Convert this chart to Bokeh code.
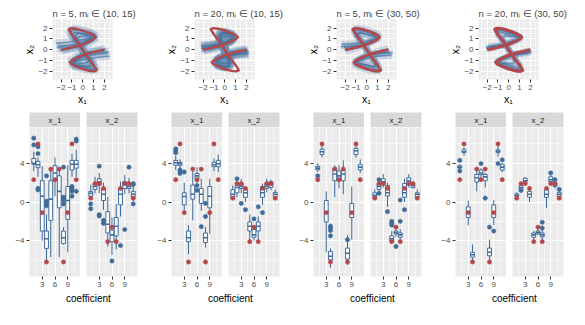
from bokeh.plotting import figure
from bokeh.layouts import row, column
from bokeh.models import Range1d, FixedTicker
from bokeh.core.properties import value
from bokeh.embed import file_html
from bokeh.resources import INLINE

FONT = "Liberation Sans"
BG = "#EBEBEB"
STRIP = "#D9D9D9"
BLUE = "#3F6B98"
RED = "#B5474B"
CURVE = "#41709E"

titles = ["n = 5, m\u1d62 \u2208 (10, 15)", "n = 20, m\u1d62 \u2208 (10, 15)",
          "n = 5, m\u1d62 \u2208 (30, 50)", "n = 20, m\u1d62 \u2208 (30, 50)"]
facets = ["x_1", "x_2"]
coef = [1, 2, 3, 4, 5, 6, 7, 8, 9, 10, 11]

# true coefficients (red points)
true_x1 = [2.3, 6.0, -1.1, -6.2, 3.4, 2.3, 3.4, -6.2, -1.1, 6.0, 2.3]
true_x2 = [0.4, 1.9, 1.9, 1.4, -4.1, -2.6, -4.1, 1.4, 1.9, 1.9, 0.4]

# true curve (red)
red_x = [-2.0, -1.5, -1.0, -0.5, 0.0, 0.5, 0.95, 1.2, 1.05, 0.6, 0.0, -0.6, -1.05, -1.3, -1.0, -0.5, 0.0,
         0.5, 1.0, 1.3, 1.05, 0.6, 0.0, -0.6, -1.05, -1.2, -0.95, -0.5, 0.0, 0.5, 1.0, 1.5, 2.0]
red_y = [0.0, 0.1, 0.22, 0.35, 0.5, 0.72, 0.95, 1.15, 1.32, 1.55, 1.78, 1.95, 2.0, 1.9, 1.4, 0.75, 0.0,
         -0.75, -1.4, -1.9, -2.0, -1.95, -1.78, -1.55, -1.32, -1.15, -0.95, -0.72, -0.5, -0.35, -0.22, -0.1, 0.0]

# estimated curves (blue), panel 1
c1a_x = [-2.3, -1.2, -0.3, 0.5, 1.1, 0.8, 0.0, -0.8, -1.0, -0.5, 0.0, 0.5, 1.0, 0.8, 0.0, -0.8, -1.1, -0.5, 0.3, 1.2, 2.3]
c1a_y = [0.3, 0.4, 0.6, 0.9, 1.3, 1.5, 1.5, 1.6, 1.3, 0.6, 0.0, -0.6, -1.3, -1.6, -1.5, -1.5, -1.3, -0.9, -0.6, -0.4, -0.3]
c1b_x = [-2.1, -1.2, -0.4, 0.3, 0.9, 0.6, -0.2, -1.0, -1.1, -0.6, 0.0, 0.6, 1.1, 1.0, 0.2, -0.6, -0.9, -0.3, 0.4, 1.2, 2.1]
c1b_y = [-0.1, 0.1, 0.35, 0.7, 1.1, 1.6, 1.8, 1.9, 1.6, 0.9, 0.1, -0.9, -1.6, -1.9, -1.8, -1.6, -1.1, -0.7, -0.35, -0.1, 0.1]
c1c_x = [-2.5, -1.4, -0.5, 0.3, 0.8, 0.4, -0.3, -0.6, -0.3, 0.0, 0.3, 0.6, 0.3, -0.4, -0.8, -0.3, 0.5, 1.4, 2.5]
c1c_y = [0.6, 0.7, 0.85, 1.0, 1.1, 1.3, 1.2, 1.0, 0.5, 0.0, -0.5, -1.0, -1.2, -1.3, -1.1, -1.0, -0.85, -0.7, -0.6]
c1d_x = [-1.9, -1.0, -0.2, 0.6, 1.3, 1.0, 0.2, -0.5, -1.3, -0.9, -0.2, 0.4, 1.1, 1.4, 0.6, -0.2, -1.0, -0.6, 0.2, 1.0, 1.9]
c1d_y = [0.0, 0.25, 0.5, 0.9, 1.2, 1.5, 1.7, 1.85, 1.8, 1.1, 0.2, -0.7, -1.6, -1.8, -1.75, -1.6, -1.3, -0.9, -0.5, -0.25, 0.0]
c1e_x = [-2.4, -1.5, -0.6, 0.2, 1.0, 1.2, 0.5, -0.4, -0.7, -0.4, 0.1, 0.5, 0.8, 0.3, -0.5, -1.2, -1.0, -0.2, 0.6, 1.5, 2.4]
c1e_y = [0.2, 0.15, 0.2, 0.4, 0.9, 1.1, 1.35, 1.55, 1.3, 0.7, -0.1, -0.8, -1.4, -1.6, -1.4, -1.1, -0.9, -0.4, -0.2, -0.15, -0.2]
# panel 2
c2a_x = [-2.2, -1.3, -0.5, 0.2, 0.7, 0.6, 0.1, -0.3, -0.4, -0.2, 0.0, 0.2, 0.4, 0.3, -0.1, -0.6, -0.7, -0.2, 0.5, 1.3, 2.2]
c2a_y = [0.1, 0.25, 0.45, 0.7, 1.0, 1.3, 1.5, 1.45, 1.1, 0.5, 0.0, -0.5, -1.1, -1.45, -1.5, -1.3, -1.0, -0.7, -0.45, -0.25, -0.1]
c2b_x = [-2.1, -1.2, -0.4, 0.3, 0.8, 0.6, 0.0, -0.4, -0.5, -0.25, 0.0, 0.25, 0.5, 0.4, 0.0, -0.6, -0.8, -0.3, 0.4, 1.2, 2.1]
c2b_y = [0.25, 0.35, 0.55, 0.8, 1.1, 1.4, 1.6, 1.55, 1.2, 0.55, 0.05, -0.55, -1.2, -1.55, -1.6, -1.4, -1.1, -0.8, -0.55, -0.35, -0.25]
c2c_x = [-2.0, -1.1, -0.4, 0.2, 0.6, 0.5, 0.0, -0.3, -0.3, -0.1, 0.0, 0.1, 0.3, 0.3, 0.0, -0.5, -0.6, -0.2, 0.4, 1.1, 2.0]
c2c_y = [0.0, 0.15, 0.35, 0.6, 0.85, 1.15, 1.3, 1.25, 0.9, 0.4, 0.0, -0.4, -0.9, -1.25, -1.3, -1.15, -0.85, -0.6, -0.35, -0.15, 0.0]
c2d_x = [-2.2, -1.4, -0.6, 0.1, 0.9, 0.8, 0.2, -0.3, -0.55, -0.3, 0.0, 0.3, 0.55, 0.3, -0.2, -0.8, -0.9, -0.1, 0.6, 1.4, 2.2]
c2d_y = [0.35, 0.4, 0.5, 0.75, 1.0, 1.35, 1.55, 1.6, 1.3, 0.6, 0.0, -0.6, -1.3, -1.6, -1.55, -1.35, -1.0, -0.75, -0.5, -0.4, -0.35]
# panel 3
c3a_x = [-2.1, -1.2, -0.5, 0.2, 0.8, 1.1, 0.9, 0.3, -0.4, -1.0, -1.2, -0.8, -0.4, 0.0, 0.4, 0.8, 1.2, 1.0, 0.4, -0.3, -0.9, -1.1, -0.8, -0.2, 0.5, 1.2, 2.1]
c3a_y = [0.2, 0.35, 0.45, 0.7, 0.95, 1.15, 1.35, 1.55, 1.75, 1.85, 1.7, 1.1, 0.6, 0.0, -0.6, -1.1, -1.7, -1.85, -1.75, -1.55, -1.35, -1.15, -0.95, -0.7, -0.45, -0.35, -0.2]
c3b_x = [-2.3, -1.3, -0.5, 0.3, 0.9, 0.7, 0.1, -0.5, -0.9, -0.6, -0.2, 0.0, 0.2, 0.6, 0.9, 0.5, -0.1, -0.7, -0.9, -0.3, 0.5, 1.3, 2.3]
c3b_y = [0.5, 0.55, 0.65, 0.85, 1.05, 1.3, 1.4, 1.55, 1.5, 1.0, 0.4, 0.0, -0.4, -1.0, -1.5, -1.55, -1.4, -1.3, -1.05, -0.85, -0.65, -0.55, -0.5]
c3c_x = [-2.0, -1.2, -0.4, 0.4, 1.2, 1.0, 0.4, -0.3, -1.2, -1.0, -0.4, 0.0, 0.4, 1.0, 1.2, 0.3, -0.4, -1.0, -1.2, -0.4, 0.4, 1.2, 2.0]
c3c_y = [-0.1, 0.1, 0.35, 0.75, 1.2, 1.45, 1.7, 1.9, 2.0, 1.5, 0.6, 0.0, -0.6, -1.5, -2.0, -1.9, -1.7, -1.45, -1.2, -0.75, -0.35, -0.1, 0.1]
c3d_x = [-2.4, -1.5, -0.7, 0.0, 0.6, 1.0, 0.6, 0.0, -0.6, -0.9, -0.5, 0.0, 0.5, 0.9, 0.6, 0.0, -0.6, -1.0, -0.6, 0.0, 0.7, 1.5, 2.4]
c3d_y = [0.3, 0.3, 0.4, 0.55, 0.85, 1.05, 1.25, 1.4, 1.6, 1.35, 0.7, 0.0, -0.7, -1.35, -1.6, -1.4, -1.25, -1.05, -0.85, -0.55, -0.4, -0.3, -0.3]
# panel 4
c4a_x = [-2.0, -1.0, -0.3, 0.4, 1.0, 1.15, 0.8, 0.1, -0.6, -1.2, -1.0, -0.5, 0.0, 0.5, 1.0, 1.2, 0.6, -0.1, -0.8, -1.15, -1.0, -0.4, 0.3, 1.0, 2.0]
c4a_y = [0.05, 0.25, 0.4, 0.7, 1.0, 1.15, 1.35, 1.6, 1.85, 1.9, 1.4, 0.7, 0.0, -0.7, -1.4, -1.9, -1.85, -1.6, -1.35, -1.15, -1.0, -0.7, -0.4, -0.25, -0.05]
c4b_x = [-2.1, -1.2, -0.4, 0.3, 0.9, 0.8, 0.2, -0.5, -1.0, -0.9, -0.4, 0.0, 0.4, 0.9, 1.0, 0.5, -0.2, -0.8, -0.9, -0.3, 0.4, 1.2, 2.1]
c4b_y = [0.2, 0.35, 0.5, 0.75, 1.0, 1.2, 1.35, 1.55, 1.7, 1.3, 0.6, 0.0, -0.6, -1.3, -1.7, -1.55, -1.35, -1.2, -1.0, -0.75, -0.5, -0.35, -0.2]
c4c_x = [-1.9, -1.1, -0.3, 0.5, 1.0, 0.7, 0.0, -0.4, -0.5, -0.3, 0.0, 0.3, 0.5, 0.4, 0.0, -0.7, -1.0, -0.5, 0.3, 1.1, 1.9]
c4c_y = [0.3, 0.4, 0.55, 0.85, 1.05, 1.2, 1.25, 1.3, 1.0, 0.5, 0.0, -0.5, -1.0, -1.3, -1.25, -1.2, -1.05, -0.85, -0.55, -0.4, -0.3]
c4d_x = [-2.05, -1.1, -0.35, 0.35, 1.05, 1.1, 0.6, 0.0, -0.7, -1.1, -0.9, -0.45, 0.0, 0.45, 0.9, 1.1, 0.7, 0.0, -0.6, -1.1, -1.05, -0.35, 0.35, 1.1, 2.05]
c4d_y = [0.1, 0.3, 0.45, 0.75, 1.05, 1.2, 1.4, 1.6, 1.8, 1.75, 1.3, 0.65, 0.0, -0.65, -1.3, -1.75, -1.8, -1.6, -1.4, -1.2, -1.05, -0.75, -0.45, -0.3, -0.1]

curves = [
    [(c1a_x, c1a_y), (c1b_x, c1b_y), (c1c_x, c1c_y), (c1d_x, c1d_y), (c1e_x, c1e_y)],
    [(c2a_x, c2a_y), (c2b_x, c2b_y), (c2c_x, c2c_y), (c2d_x, c2d_y)],
    [(c3a_x, c3a_y), (c3b_x, c3b_y), (c3c_x, c3c_y), (c3d_x, c3d_y)],
    [(c4a_x, c4a_y), (c4b_x, c4b_y), (c4c_x, c4c_y), (c4d_x, c4d_y)],
]
red_width = [2.2, 2.4, 2.6, 3.0]
band_alpha = [0.18, 0.3, 0.2, 0.2]
band_width = [8, 9, 7, 6]

# box statistics (lower whisker, q1, median, q3, upper whisker) per coefficient 1..11
p1_x1_box = [(3.2, 3.9, 4.0, 4.5, 5.2), (2.6, 3.55, 3.85, 4.2, 4.6), (-4.0, -3.0, 0.6, 2.2, 3.7),
             (-6.0, -4.8, -3.8, -3.0, -1.3), (-5.7, -1.9, 0.3, 2.2, 3.4), (0.6, 2.2, 3.0, 3.75, 4.6),
             (-5.7, -0.6, 1.1, 2.7, 3.4), (-4.4, -4.3, -3.7, -3.0, -2.6), (-5.2, -1.8, 0.15, 1.6, 3.8),
             (2.6, 3.3, 3.9, 4.3, 5.0), (2.6, 3.5, 3.9, 4.3, 5.4)]
p1_x1_out = [(1, 6.6), (1, 5.9), (2, 5.7), (2, 5.0), (2, 1.4), (2, 1.25), (4, 0.1), (4, -0.1), (4, -0.4),
             (4, 2.7), (8, 3.6), (8, 0.5), (8, 0.4), (8, 0.2), (8, -0.2), (10, 1.6), (10, 1.4), (10, 1.1),
             (10, 0.6), (11, 6.5), (11, 6.3), (11, 1.1)]
p1_x2_box = [(0.2, 0.6, 0.9, 1.1, 1.8), (0.9, 1.3, 1.6, 1.9, 2.6), (0.9, 1.75, 2.1, 2.4, 3.0),
             (-0.8, 0.15, 0.8, 1.4, 2.0), (-4.6, -3.2, -2.3, -1.0, 0.5), (-5.5, -4.1, -3.4, -2.9, -1.6),
             (-4.9, -3.5, -2.5, -1.6, -0.2), (-1.5, -0.3, 0.8, 1.4, 2.1), (0.8, 1.4, 1.8, 2.1, 2.8),
             (0.9, 1.4, 1.6, 1.9, 2.5), (0.1, 0.5, 0.8, 1.1, 1.6)]
p1_x2_out = [(1, -0.2), (1, -0.7), (3, 3.7), (3, -1.3), (3, -1.45), (4, -1.9), (4, -2.2), (6, -6.1),
             (8, -4.5), (9, -2.85), (10, 3.6), (11, 1.8), (11, 1.9), (11, -0.2)]

p2_x1_box = [(3.3, 3.8, 4.05, 4.3, 4.8), (3.5, 3.8, 3.95, 4.1, 4.4), (-1.3, -0.3, 0.57, 0.95, 2.0),
             (-5.4, -4.1, -3.7, -3.0, -2.4), (-1.9, 0.3, 0.8, 1.75, 3.4), (1.9, 2.4, 2.7, 2.95, 3.6),
             (-0.9, -0.15, 0.8, 1.4, 2.4), (-4.7, -4.2, -3.7, -3.2, -2.6), (-3.3, -0.6, 0.6, 1.6, 2.4),
             (3.2, 3.65, 3.85, 4.1, 4.5), (3.1, 3.65, 3.95, 4.3, 4.9)]
p2_x1_out = [(1, 5.5), (1, 5.3), (1, 5.1), (2, 3.3), (2, 3.2), (2, 2.95), (3, 3.1), (6, 1.7), (6, 1.2),
             (7, -2.55), (8, -0.15), (8, -1.5)]
p2_x2_box = [(0.3, 0.48, 0.8, 1.27, 1.7), (0.5, 0.95, 1.5, 1.7, 2.2), (0.9, 1.4, 1.6, 1.9, 2.4),
             (0.0, 0.48, 0.95, 1.27, 1.6), (-4.0, -3.0, -2.5, -2.06, -1.3), (-4.0, -3.65, -3.4, -2.85, -2.5),
             (-3.9, -3.0, -2.5, -2.06, -1.5), (-0.3, 0.48, 0.95, 1.6, 1.9), (1.0, 1.4, 1.6, 1.9, 2.4),
             (1.2, 1.5, 1.8, 2.1, 2.3), (0.5, 0.55, 0.8, 1.0, 1.3)]
p2_x2_out = [(2, 2.4), (3, -0.15), (4, -0.8), (6, -1.75), (7, -0.5), (8, -1.1)]

p3_x1_box = [(3.1, 3.33, 3.5, 3.7, 4.0), (4.6, 4.9, 5.2, 5.46, 5.8), (-5.2, -2.06, -1.0, 0.15, 1.1),
             (-6.8, -6.0, -5.6, -5.1, -4.8), (0.5, 2.2, 2.9, 3.5, 3.8), (1.4, 2.2, 2.7, 3.2, 3.8),
             (0.8, 2.2, 2.9, 3.3, 4.3), (-6.5, -5.9, -5.3, -4.76, -3.4), (-3.9, -1.6, -1.1, -0.15, 1.6),
             (4.6, 4.9, 5.3, 5.55, 5.9), (3.0, 3.3, 3.6, 3.9, 4.4)]
p3_x1_out = [(1, 2.7), (4, -2.5), (4, -2.7), (4, -2.95), (4, -3.5), (8, -3.9)]
p3_x2_box = [(0.3, 0.48, 0.7, 0.95, 1.3), (0.8, 1.3, 1.6, 1.9, 2.3), (1.5, 1.8, 2.1, 2.4, 2.9),
             (-0.5, 0.63, 0.95, 1.7, 2.0), (-4.3, -4.1, -3.8, -3.5, -3.0), (-3.6, -3.3, -3.15, -3.0, -2.7),
             (-4.0, -3.65, -3.4, -3.2, -2.8), (0.0, 0.48, 0.95, 1.9, 2.4), (1.5, 1.9, 2.2, 2.5, 2.9),
             (1.4, 1.5, 1.7, 1.8, 2.1), (0.4, 0.55, 0.8, 0.95, 1.3)]
p3_x2_out = [(2, 2.3), (2, 0.9), (4, -1.0), (5, -2.0), (5, -2.2), (5, -2.4), (6, -4.6), (7, -2.0),
             (7, 0.2), (8, -0.8)]

p4_x1_box = [(3.3, 3.5, 3.6, 3.75, 3.9), (4.8, 5.1, 5.2, 5.4, 5.7), (-2.4, -1.6, -1.1, -0.5, 0.15),
             (-6.0, -5.7, -5.45, -5.2, -4.4), (1.1, 2.06, 2.5, 2.85, 3.4), (2.5, 2.85, 3.0, 3.3, 3.5),
             (1.5, 2.2, 2.6, 2.85, 3.0), (-6.0, -5.56, -5.2, -4.76, -3.9), (-2.4, -1.6, -1.1, -0.3, 0.2),
             (4.7, 5.1, 5.25, 5.4, 5.8), (3.1, 3.3, 3.6, 3.9, 4.0)]
p4_x1_out = [(1, 4.3), (1, 3.2), (6, 3.97), (7, 0.4), (8, -2.6), (9, -3.0), (10, 3.97), (11, 4.35)]
p4_x2_box = [(0.4, 0.6, 0.7, 0.85, 1.0), (1.0, 1.3, 1.5, 1.7, 2.0), (1.8, 2.06, 2.2, 2.45, 2.6),
             (0.0, 0.5, 0.8, 1.1, 1.4), (-3.9, -3.65, -3.4, -3.2, -3.0), (-3.4, -3.3, -3.15, -3.0, -2.8),
             (-4.0, -3.6, -3.4, -3.2, -2.9), (-0.6, 0.48, 0.8, 1.27, 1.5), (1.7, 2.1, 2.3, 2.6, 2.8),
             (1.4, 1.6, 1.8, 2.0, 2.2), (0.4, 0.6, 0.8, 1.0, 1.2)]
p4_x2_out = [(2, 1.2), (7, -2.1), (7, -2.7), (9, 3.0), (10, 2.3), (11, 1.3)]

boxes = [[(p1_x1_box, p1_x1_out), (p1_x2_box, p1_x2_out)],
         [(p2_x1_box, p2_x1_out), (p2_x2_box, p2_x2_out)],
         [(p3_x1_box, p3_x1_out), (p3_x2_box, p3_x2_out)],
         [(p4_x1_box, p4_x1_out), (p4_x2_box, p4_x2_out)]]
truths = [true_x1, true_x2]

top_ticks = [-2, -1, 0, 1, 2]
top_minor = [-2.5, -1.5, -0.5, 0.5, 1.5, 2.5]
box_xticks = [3, 6, 9]
box_xminor = [1.5, 4.5, 7.5, 10.5]
box_yticks = [-4, 0, 4]
box_yminor = [-6, -2, 2, 6]
MINUS = "\u2212"


def label_map(ticks):
    return {t: (MINUS + str(abs(t)) if t < 0 else str(t)) for t in ticks}


def style_axes(p, xt, xm, yt, ym):
    p.xaxis.ticker = FixedTicker(ticks=xt, minor_ticks=xm)
    p.yaxis.ticker = FixedTicker(ticks=yt, minor_ticks=ym)
    p.xaxis.major_label_overrides = label_map(xt)
    p.yaxis.major_label_overrides = label_map(yt)
    for ax in p.xaxis + p.yaxis:
        ax.axis_line_color = None
        ax.major_tick_line_color = "#333333"
        ax.major_tick_line_width = 1
        ax.major_tick_in = 0
        ax.major_tick_out = 3
        ax.minor_tick_line_color = None
        ax.major_label_text_font = FONT
        ax.major_label_text_font_size = "8px"
        ax.major_label_text_color = "#4D4D4D"
        ax.major_label_standoff = 1
        ax.axis_label_text_font = FONT
        ax.axis_label_text_font_style = "normal"
        ax.axis_label_text_color = "black"
        ax.axis_label_text_font_size = "10.5px"
        ax.axis_label_standoff = 0
    for g in p.xgrid + p.ygrid:
        g.grid_line_color = "white"
        g.grid_line_width = 1.0
        g.minor_grid_line_color = "white"
        g.minor_grid_line_width = 0.5
    p.background_fill_color = BG
    p.border_fill_color = "white"
    p.outline_line_color = None


columns = []
for k in range(4):
    # top curve panel (fixed square frame)
    tp = figure(frame_width=60, frame_height=60, output_backend="svg", toolbar_location=None,
                x_range=Range1d(-2.8, 2.75), y_range=Range1d(-2.75, 2.8),
                min_border_left=52, min_border_right=30, min_border_top=19, min_border_bottom=27)
    tp.title.text = titles[k]
    tp.title.text_font = FONT
    tp.title.text_font_size = "9.5px"
    tp.title.text_font_style = "normal"
    tp.title.align = "left"
    tp.title.standoff = 2
    tp.title.offset = 0
    tp.xaxis.axis_label = "x\u2081"
    tp.yaxis.axis_label = "x\u2082"
    style_axes(tp, top_ticks, top_minor, top_ticks, top_minor)
    for cx, cy in curves[k]:
        tp.line(cx, cy, line_color=CURVE, line_alpha=band_alpha[k], line_width=band_width[k])
    for cx, cy in curves[k]:
        tp.line(cx, cy, line_color=CURVE, line_alpha=0.6, line_width=1.5)
    tp.line(red_x, red_y, line_color=RED, line_width=red_width[k], line_join="round")

    strips = []
    panels = []
    for f in range(2):
        if f == 0:
            w, bl, br = 80, 29, 0
        else:
            w, bl, br = 62, 6, 5
        sp = figure(width=w, height=20, output_backend="svg", toolbar_location=None,
                    x_range=Range1d(0, 1), y_range=Range1d(0, 1), x_axis_type=None, y_axis_type=None,
                    min_border_left=bl, min_border_right=br, min_border_top=5, min_border_bottom=0)
        sp.background_fill_color = STRIP
        sp.outline_line_color = None
        sp.text(x=[0.5], y=[0.45], text=[facets[f]], text_align="center", text_baseline="middle",
                text_font=value(FONT), text_font_size="8px", text_color="#1A1A1A")
        strips.append(sp)

        bp = figure(width=w, height=165, output_backend="svg", toolbar_location=None,
                    x_range=Range1d(0, 12), y_range=Range1d(-7.7, 7.7),
                    min_border_left=bl, min_border_right=br, min_border_top=0, min_border_bottom=16)
        style_axes(bp, box_xticks, box_xminor, box_yticks, box_yminor)
        if f == 1:
            bp.yaxis.visible = False
        stats, outs = boxes[k][f]
        lo = [s[0] for s in stats]
        q1 = [s[1] for s in stats]
        med = [s[2] for s in stats]
        q3 = [s[3] for s in stats]
        hi = [s[4] for s in stats]
        bp.segment(x0=coef, y0=lo, x1=coef, y1=q1, line_color=BLUE, line_width=1)
        bp.segment(x0=coef, y0=q3, x1=coef, y1=hi, line_color=BLUE, line_width=1)
        bp.vbar(x=coef, width=0.9, bottom=q1, top=q3, fill_color="white", line_color=BLUE, line_width=1)
        bp.segment(x0=[c - 0.45 for c in coef], y0=med, x1=[c + 0.45 for c in coef], y1=med,
                   line_color=BLUE, line_width=1.6)
        bp.scatter([o[0] for o in outs], [o[1] for o in outs], size=4.3, fill_color=BLUE,
                   line_color=BLUE, line_width=0.5)
        bp.scatter(coef, truths[f], size=4.3, fill_color=RED, line_color=RED, line_width=0.5)
        panels.append(bp)

    cf = figure(width=142, height=14, output_backend="svg", toolbar_location=None,
                x_range=Range1d(0, 142), y_range=Range1d(0, 1), x_axis_type=None, y_axis_type=None,
                min_border_left=0, min_border_right=0, min_border_top=0, min_border_bottom=0)
    cf.outline_line_color = None
    cf.background_fill_color = "white"
    cf.text(x=[85], y=[0.6], text=["coefficient"], text_align="center", text_baseline="middle",
            text_font=value(FONT), text_font_size="10px", text_color="black")

    columns.append(column(tp, row(*strips, spacing=0), row(*panels, spacing=0), cf, spacing=0))

layout = row(*columns, spacing=0)
open("out.html", "w").write(file_html(layout, INLINE))
